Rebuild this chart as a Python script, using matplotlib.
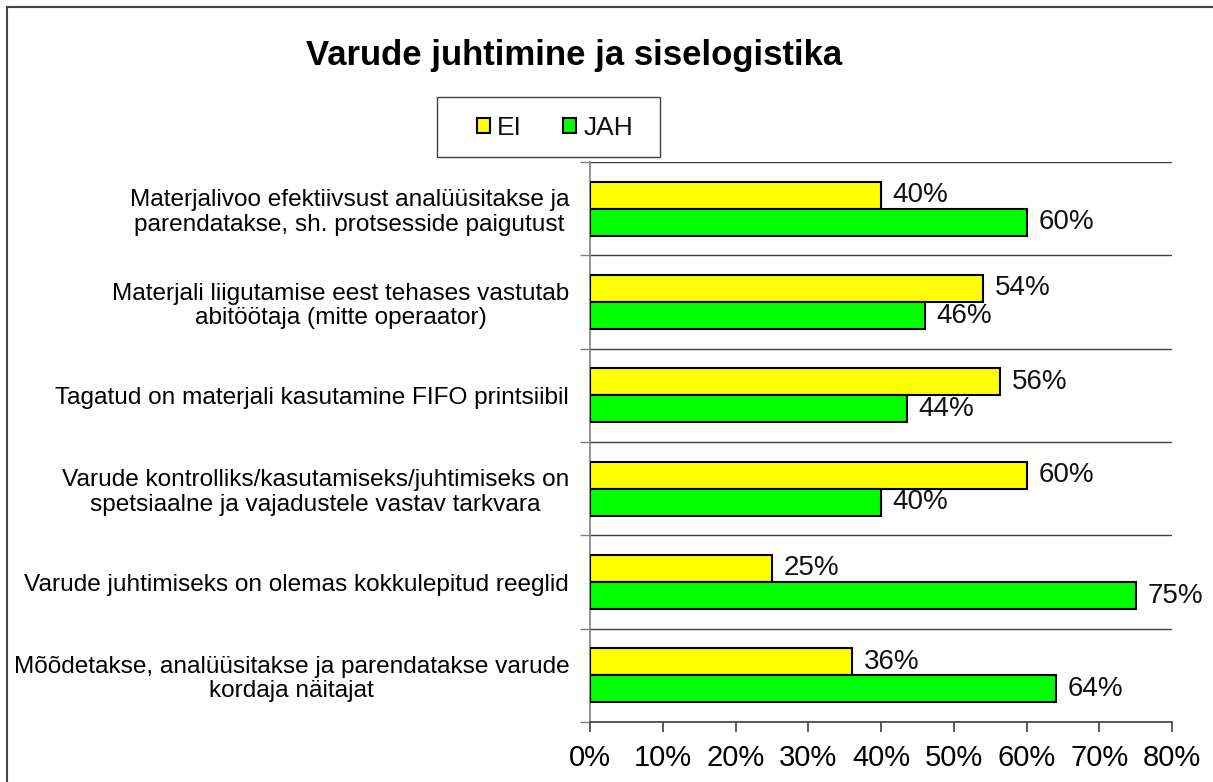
import matplotlib
matplotlib.use("Agg")
import matplotlib.pyplot as plt
from matplotlib.lines import Line2D
from matplotlib.patches import Patch, Rectangle
import numpy as np

plt.rcParams['font.family'] = ['Liberation Sans', 'DejaVu Sans']

title = "Varude juhtimine ja siselogistika"
categories = [
    "Materjalivoo efektiivsust analüüsitakse ja\nparendatakse, sh. protsesside paigutust",
    "Materjali liigutamise eest tehases vastutab\nabitöötaja (mitte operaator)",
    "Tagatud on materjali kasutamine FIFO printsiibil",
    "Varude kontrolliks/kasutamiseks/juhtimiseks on\nspetsiaalne ja vajadustele vastav tarkvara",
    "Varude juhtimiseks on olemas kokkulepitud reeglid",
    "Mõõdetakse, analüüsitakse ja parendatakse varude\nkordaja näitajat",
]
series_names = ["EI", "JAH"]
ei_values = [0.40, 0.54, 0.564, 0.60, 0.25, 0.36]
jah_values = [0.60, 0.46, 0.436, 0.40, 0.75, 0.64]
x_ticks = [0, 0.1, 0.2, 0.3, 0.4, 0.5, 0.6, 0.7, 0.8]
x_ticklabels = ["0%", "10%", "20%", "30%", "40%", "50%", "60%", "70%", "80%"]

W, H = 1213, 782
fig = plt.figure(figsize=(W / 100, H / 100), dpi=100)
ax = fig.add_axes([590 / W, 1 - 722 / H, (1172 - 590) / W, (722 - 162) / H])

n = len(categories)
y = np.arange(n)
bh = 0.29
bars_ei = ax.barh(y - bh / 2, ei_values, height=bh, color="#FFFF00",
                  edgecolor="black", linewidth=1.5, label=series_names[0], zorder=3)
bars_jah = ax.barh(y + bh / 2, jah_values, height=bh, color="#00FF00",
                   edgecolor="black", linewidth=1.5, label=series_names[1], zorder=3)

for bars, vals in ((bars_ei, ei_values), (bars_jah, jah_values)):
    for b, v in zip(bars, vals):
        ax.text(v + 0.016, b.get_y() + b.get_height() / 2, f"{round(v * 100):.0f}%",
                va="center", ha="left", fontsize=20, color="#111111")

ax.set_xlim(0, 0.8)
ax.set_ylim(n - 0.5, -0.5)
ax.set_xticks(x_ticks)
ax.set_xticklabels(x_ticklabels, fontsize=21)
ax.set_yticks(y)
ax.set_yticklabels(categories, fontsize=17.6, multialignment="center", linespacing=1.15)
ax.set_yticks(np.arange(-0.5, n, 1.0), minor=True)
ax.tick_params(axis="y", which="major", length=0, pad=15)
ax.tick_params(axis="y", which="minor", length=7, color="#808080", width=1)
ax.tick_params(axis="x", which="major", length=7, color="#404040", width=1.2, pad=9)
ax.grid(axis="y", which="minor", color="#404040", linewidth=1.0, zorder=0)
for s in ("top", "right"):
    ax.spines[s].set_visible(False)
ax.spines["left"].set_color("#808080")
ax.spines["left"].set_linewidth(1.2)
ax.spines["bottom"].set_color("#404040")
ax.spines["bottom"].set_linewidth(1.2)

fig.text(574 / W, 1 - 55 / H, title, ha="center", va="center",
         fontsize=25, fontweight="bold")

# legend box
fig.add_artist(Rectangle((437 / W, 1 - 157 / H), (660 - 437) / W, (157 - 97) / H,
                         transform=fig.transFigure, facecolor="white",
                         edgecolor="#404040", linewidth=1.0))
handles = [Patch(facecolor="#FFFF00", edgecolor="black", linewidth=1.5),
           Patch(facecolor="#00FF00", edgecolor="black", linewidth=1.5)]
leg = fig.legend(handles, series_names, loc="center left", ncol=2,
                 bbox_to_anchor=(477 / W, 1 - 128 / H), fontsize=19,
                 frameon=False,
                 handlelength=0.5, handleheight=0.5, handletextpad=0.27,
                 columnspacing=1.55, borderpad=0, borderaxespad=0)
for t in leg.get_texts():
    t.set_color("#111111")

fig.add_artist(Line2D([7 / W, 1.0], [1 - 7 / H, 1 - 7 / H], color="#444444", linewidth=1.5))
fig.add_artist(Line2D([7 / W, 7 / W], [0.0, 1 - 7 / H], color="#444444", linewidth=1.5))

fig.savefig("out.png", dpi=100)
